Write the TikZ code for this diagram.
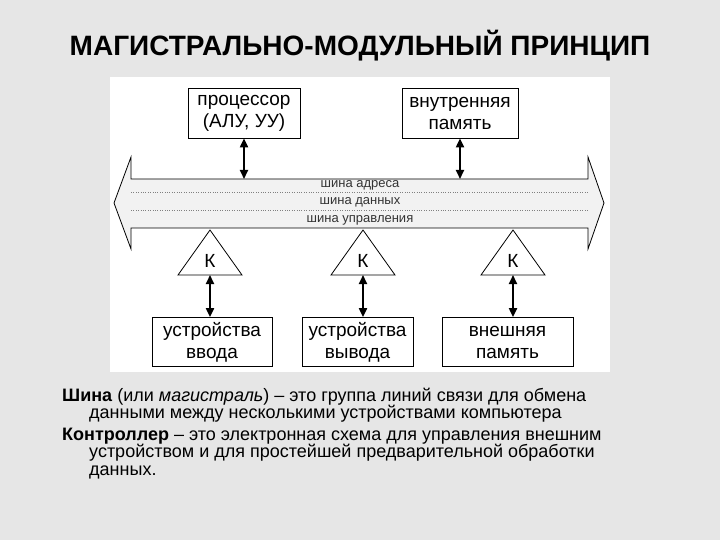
\documentclass[tikz,border=0pt]{standalone}
\usepackage{fontspec}
\setmainfont{Liberation Sans}
\usetikzlibrary{arrows.meta}
\definecolor{bggray}{HTML}{E6E6E6}
\definecolor{busgray}{HTML}{F2F2F2}
\tikzset{
  unitbox/.style={draw, fill=white, line width=0.8pt, inner sep=0pt, align=center,
    font=\fontsize{19}{22}\selectfont},
  dbl/.style={{Triangle[length=9pt,width=8pt]}-{Triangle[length=9pt,width=8pt]}, line width=2pt},
  buslabel/.style={font=\fontsize{13}{13}\selectfont, text=black!80, inner sep=0pt},
  deftext/.style={anchor=base west, inner sep=0pt, font=\fontsize{18}{18}\selectfont}
}
\begin{document}
\begin{tikzpicture}[x=1pt,y=-1pt]
  \fill[bggray] (0,0) rectangle (720,540);
  \useasboundingbox (0,0) rectangle (720,540);
  \fill[white] (110,77) rectangle (610,372);
  \node[anchor=base, inner sep=0pt, font=\fontsize{28}{28}\selectfont\bfseries] (title) at (360,56) {МАГИСТРАЛЬНО-МОДУЛЬНЫЙ ПРИНЦИП};

  % bus
  \draw[fill=busgray, line width=0.8pt] (131,179) -- (588,179) -- (588,157) -- (604,203)
    -- (588,249) -- (588,228) -- (131,228) -- (131,249) -- (114,203) -- (131,157) -- cycle;
  \draw[dotted, gray] (131,192) -- (588,192);
  \draw[dotted, gray] (131,210) -- (588,210);
  \node[buslabel] (adr) at (360,185) {шина адреса};
  \node[buslabel] (dat) at (360,202) {шина данных};
  \node[buslabel] (upr) at (360,220) {шина управления};
  \coordinate (bustop) at (0,179);

  % top units
  \node[unitbox, minimum width=112pt, minimum height=50pt] (proc) at (244,113) {процессор\\(АЛУ, УУ)};
  \node[unitbox, minimum width=116pt, minimum height=50pt] (mem) at (460,113) {внутренняя\\память};
  \draw[dbl] (proc.south) -- (proc.south |- bustop);
  \draw[dbl] (mem.south) -- (mem.south |- bustop);

  % controllers
  \foreach \x/\n in {210/1,363/2,513/3} {
    \draw[line width=0.8pt] (\x-32,275) -- (\x,230) -- (\x+32,275) -- cycle;
    \node[inner sep=0pt, font=\fontsize{19}{19}\selectfont] (k\n) at (\x,261) {К};
    \coordinate (kb\n) at (\x,275);
  }

  % devices
  \node[unitbox, minimum width=120pt, minimum height=49pt] (dev1) at (212,342) {устройства\\ввода};
  \node[unitbox, minimum width=111pt, minimum height=49pt] (dev2) at (357.5,342) {устройства\\вывода};
  \node[unitbox, minimum width=131pt, minimum height=49pt] (dev3) at (507.5,342) {внешняя\\память};
  \draw[dbl] (kb1) -- (kb1 |- dev1.north);
  \draw[dbl] (kb2) -- (kb2 |- dev2.north);
  \draw[dbl] (kb3) -- (kb3 |- dev3.north);

  % definitions
  \node[deftext] (l1) at (62,401) {\textbf{Шина} (или \textit{магистраль}) – это группа линий связи для обмена};
  \node[deftext] (l2) at (89,418) {данными между несколькими устройствами компьютера};
  \node[deftext] (l3) at (62,440) {\textbf{Контроллер} – это электронная схема для управления внешним};
  \node[deftext] (l4) at (89,457) {устройством и для простейшей предварительной обработки};
  \node[deftext] (l5) at (89,475) {данных.};
\end{tikzpicture}
\end{document}
